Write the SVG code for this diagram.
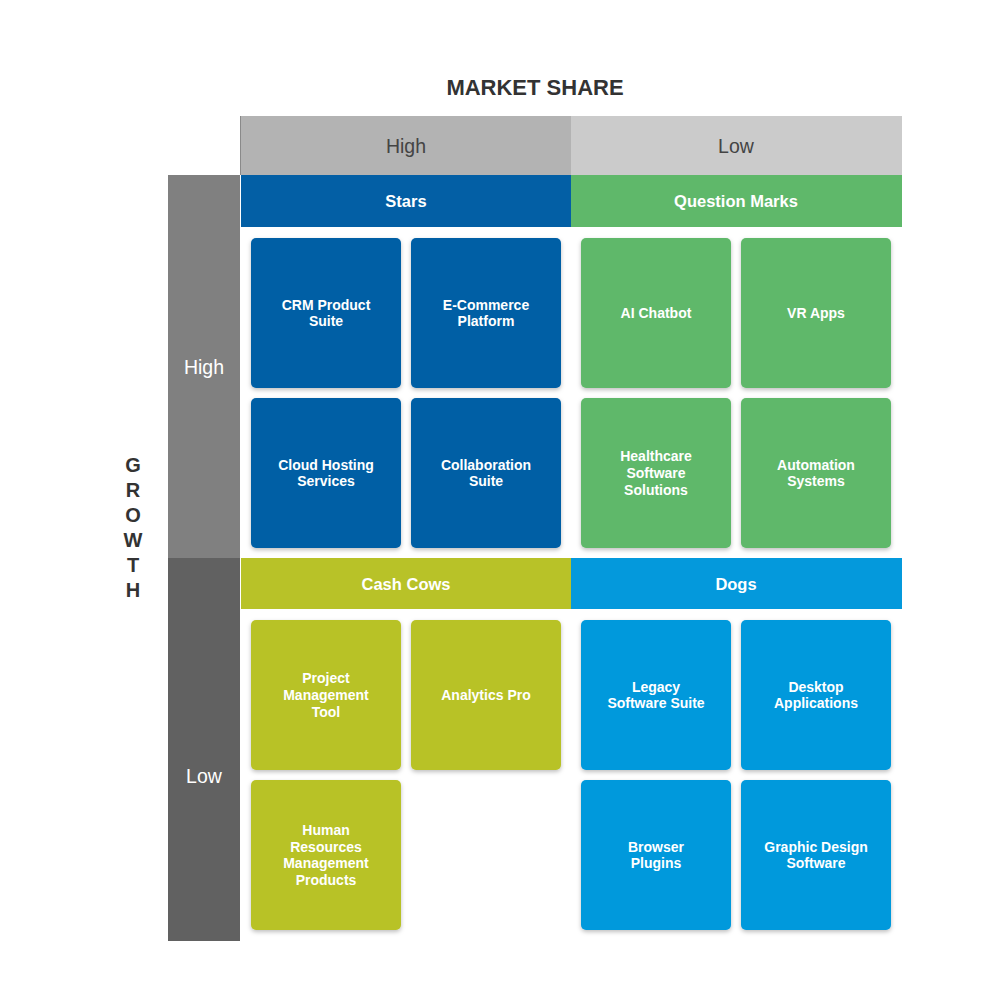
<svg xmlns="http://www.w3.org/2000/svg" width="1000" height="1000" viewBox="0 0 1000 1000">
<defs>
<filter id="sh" x="-10%" y="-10%" width="120%" height="125%">
<feDropShadow dx="0" dy="2" stdDeviation="2" flood-color="#000" flood-opacity="0.25"/>
</filter>
<style>
text{font-family:"Liberation Sans",Arial,sans-serif;text-anchor:middle;dominant-baseline:central}
.title{font-size:22px;font-weight:bold;fill:#333}
.axis{font-size:19.5px;fill:#444}
.axisw{font-size:19.5px;fill:#fff}
.cat{font-size:16.5px;font-weight:bold;fill:#fff}
.card text{font-size:14px;font-weight:bold;fill:#fff}
.card rect{filter:url(#sh)}
.star rect{fill:#035fa5}
.qm rect{fill:#5fb86a}
.cow rect{fill:#b8c228}
.dog rect{fill:#0499dc}
.g{font-size:20px;font-weight:bold;fill:#333}
</style>
</defs>
<rect width="1000" height="1000" fill="#fff"/>
<text class="title" x="535" y="87">MARKET SHARE</text>
<g id="header-high"><rect x="240" y="116" width="331" height="59" fill="#b3b3b3"/><line x1="240.5" y1="116" x2="240.5" y2="175" stroke="#8a8a8a"/><text class="axis" x="406" y="146">High</text></g>
<g id="header-low"><rect x="571" y="116" width="331" height="59" fill="#cbcbcb"/><text class="axis" x="736" y="146">Low</text></g>
<g id="growth-high"><rect x="168" y="175" width="72" height="383" fill="#808080"/><text class="axisw" x="204" y="367">High</text></g>
<g id="growth-low"><rect x="168" y="558" width="72" height="383" fill="#616161"/><text class="axisw" x="204" y="776">Low</text></g>
<g id="growth-label">
<text class="g" x="133" y="465">G</text><text class="g" x="133" y="490">R</text><text class="g" x="133" y="515">O</text><text class="g" x="133" y="540">W</text><text class="g" x="133" y="565">T</text><text class="g" x="133" y="590">H</text>
</g>
<g id="cat-stars"><rect x="241" y="175" width="330" height="52" fill="#035fa5"/><text class="cat" x="406" y="201">Stars</text></g>
<g id="cat-qm"><rect x="571" y="175" width="331" height="52" fill="#5fb86a"/><text class="cat" x="736" y="201">Question Marks</text></g>
<g id="cat-cows"><rect x="241" y="558" width="330" height="51" fill="#b8c228"/><text class="cat" x="406" y="584">Cash Cows</text></g>
<g id="cat-dogs"><rect x="571" y="558" width="331" height="51" fill="#0499dc"/><text class="cat" x="736" y="584">Dogs</text></g>

<g id="crm" class="card star"><rect x="251" y="238" width="150" height="150" rx="5"/><text x="326" y="305">CRM Product</text><text x="326" y="321">Suite</text></g>
<g id="ecom" class="card star"><rect x="411" y="238" width="150" height="150" rx="5"/><text x="486" y="305">E-Commerce</text><text x="486" y="321">Platform</text></g>
<g id="cloud" class="card star"><rect x="251" y="398" width="150" height="150" rx="5"/><text x="326" y="465">Cloud Hosting</text><text x="326" y="481">Services</text></g>
<g id="collab" class="card star"><rect x="411" y="398" width="150" height="150" rx="5"/><text x="486" y="465">Collaboration</text><text x="486" y="481">Suite</text></g>

<g id="ai" class="card qm"><rect x="581" y="238" width="150" height="150" rx="5"/><text x="656" y="313">AI Chatbot</text></g>
<g id="vr" class="card qm"><rect x="741" y="238" width="150" height="150" rx="5"/><text x="816" y="313">VR Apps</text></g>
<g id="health" class="card qm"><rect x="581" y="398" width="150" height="150" rx="5"/><text x="656" y="456">Healthcare</text><text x="656" y="473">Software</text><text x="656" y="490">Solutions</text></g>
<g id="auto" class="card qm"><rect x="741" y="398" width="150" height="150" rx="5"/><text x="816" y="465">Automation</text><text x="816" y="481">Systems</text></g>

<g id="pm" class="card cow"><rect x="251" y="620" width="150" height="150" rx="5"/><text x="326" y="678">Project</text><text x="326" y="695">Management</text><text x="326" y="712">Tool</text></g>
<g id="analytics" class="card cow"><rect x="411" y="620" width="150" height="150" rx="5"/><text x="486" y="695">Analytics Pro</text></g>
<g id="hr" class="card cow"><rect x="251" y="780" width="150" height="150" rx="5"/><text x="326" y="830">Human</text><text x="326" y="847">Resources</text><text x="326" y="863">Management</text><text x="326" y="880">Products</text></g>

<g id="legacy" class="card dog"><rect x="581" y="620" width="150" height="150" rx="5"/><text x="656" y="687">Legacy</text><text x="656" y="703">Software Suite</text></g>
<g id="desktop" class="card dog"><rect x="741" y="620" width="150" height="150" rx="5"/><text x="816" y="687">Desktop</text><text x="816" y="703">Applications</text></g>
<g id="browser" class="card dog"><rect x="581" y="780" width="150" height="150" rx="5"/><text x="656" y="847">Browser</text><text x="656" y="863">Plugins</text></g>
<g id="graphic" class="card dog"><rect x="741" y="780" width="150" height="150" rx="5"/><text x="816" y="847">Graphic Design</text><text x="816" y="863">Software</text></g>
<g id="connectors"/>
</svg>
